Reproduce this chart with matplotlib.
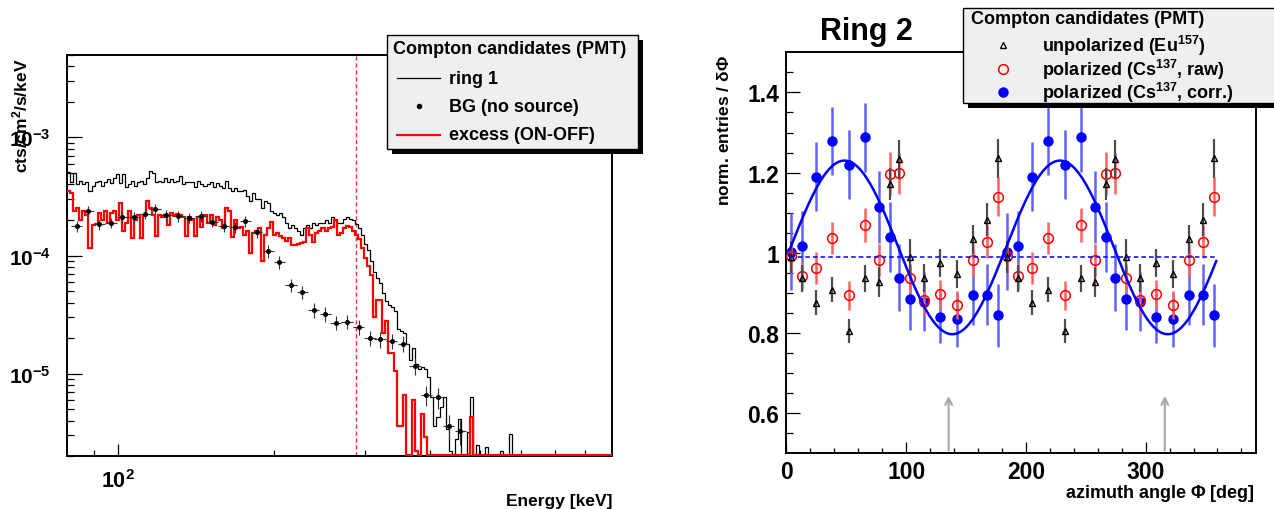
import numpy as np
import matplotlib

matplotlib.use("Agg")
import matplotlib.pyplot as plt
from matplotlib.lines import Line2D
from matplotlib.patches import Rectangle
from matplotlib.ticker import FixedLocator, FixedFormatter, NullFormatter

plt.rcParams.update({
    "font.family": ["Liberation Sans", "DejaVu Sans"],
    "font.weight": "bold",
    "mathtext.fontset": "custom",
    "mathtext.rm": "Liberation Sans:bold",
    "mathtext.bf": "Liberation Sans:bold",
    "mathtext.it": "Liberation Sans:bold:italic",
    "mathtext.default": "rm",
})

# ---------------- left panel: energy spectrum, ring 1 ----------------
E_MIN, E_MAX, N_BINS = 80.0, 900.0, 180
Y_MIN, Y_MAX = 2e-6, 5e-3
E_CUT = 288.0  # dashed line

# cts/cm2/s/keV in units of 1e-4, one value per log bin
ring1 = [
    5.1, 4.2, 5.0, 4.0, 4.3, 4.0, 4.2, 3.5, 3.9, 4.2,
    4.3, 3.9, 4.2, 4.4, 4.1, 4.5, 4.9, 4.1, 4.9, 3.8,
    4.0, 4.3, 3.9, 4.2, 4.3, 4.0, 4.5, 5.2, 5.0, 4.2,
    4.3, 4.2, 4.5, 4.2, 4.4, 4.2, 4.3, 4.7, 4.0, 4.2,
    4.2, 4.2, 3.8, 4.3, 4.0, 3.9, 4.0, 4.2, 3.8, 4.1,
    3.9, 3.7, 4.3, 3.7, 3.5, 3.7, 3.5, 3.5, 3.6, 3.2,
    2.9, 3.4, 3.0, 3.0, 2.5, 2.9, 2.8, 2.4, 2.3, 2.2,
    2.3, 2.1, 1.9, 1.7, 1.8, 1.7, 1.6, 1.5, 1.7, 1.8,
    1.7, 1.9, 1.8, 1.9, 1.9, 2.0, 1.9, 2.1, 2.0, 1.9,
    1.9, 2.05, 2.1, 2.05, 1.98, 1.86, 1.7, 1.49, 1.26, 1.11,
    0.89, 0.73, 0.65, 0.58, 0.48, 0.41, 0.38, 0.37, 0.34, 0.24,
    0.23, 0.22, 0.18, 0.13, 0.165, 0.12, 0.11, 0.113, 0.11, 0.093,
    0.063, 0.036, 0.043, 0.052, 0.064, 0.034, 0.022, 0, 0.028, 0.041,
    0, 0.021, 0.032, 0.063, 0, 0.025, 0, 0, 0.024, 0,
    0, 0, 0, 0.022, 0, 0, 0.031, 0, 0, 0,
    0, 0, 0, 0, 0, 0, 0, 0, 0, 0,
    0, 0, 0, 0, 0, 0, 0, 0, 0, 0,
    0, 0, 0, 0, 0, 0, 0, 0, 0, 0,
]
excess = [
    3.5, 3.4, 2.4, 2.5, 2.0, 2.4, 2.2, 1.15, 1.8, 1.85,
    2.3, 2.0, 2.4, 1.9, 2.3, 2.4, 2.0, 2.8, 1.6, 1.9,
    2.4, 1.4, 2.0, 2.2, 1.4, 2.2, 2.9, 2.5, 2.2, 1.45,
    2.2, 2.1, 2.2, 1.8, 2.3, 2.2, 2.25, 2.2, 2.1, 1.45,
    2.1, 2.0, 1.45, 2.1, 1.75, 2.2, 1.9, 2.2, 1.8, 2.1,
    2.0, 1.7, 2.5, 2.4, 1.43, 2.0, 1.7, 1.75, 1.49, 1.6,
    1.04, 1.55, 1.6, 1.7, 0.89, 1.5, 1.7, 1.93, 1.5, 1.55,
    1.45, 1.4, 1.32, 1.4, 1.22, 1.22, 1.25, 1.28, 1.3, 1.7,
    1.5, 1.3, 1.55, 1.6, 1.7, 1.6, 1.7, 1.75, 2.0, 1.5,
    1.55, 1.7, 1.78, 1.75, 1.6, 1.48, 1.38, 1.15, 0.95, 0.82,
    0.68, 0.3, 0.42, 0.42, 0.22, 0.28, 0.15, 0.15, 0.105, 0.036,
    0.036, 0.066, 0, 0, 0.06, 0.022, 0, 0.046, 0.029, 0,
    0, 0, 0, 0, 0, 0, 0, 0, 0, 0,
    0, 0, 0, 0.043, 0, 0, 0, 0, 0, 0,
    0, 0, 0, 0, 0, 0, 0, 0, 0, 0,
    0, 0, 0, 0, 0, 0, 0, 0, 0, 0,
    0, 0, 0, 0, 0, 0, 0, 0, 0, 0,
    0, 0, 0, 0, 0, 0, 0, 0, 0, 0,
]
assert len(ring1) == N_BINS and len(excess) == N_BINS

# background run (no source), coarser bins
bg_E = [83.4, 87.8, 92.3, 97.2, 102.2, 107.5, 113.1, 118.2, 124.3, 130.8,
        137.6, 144.8, 152.3, 160.3, 168.6, 176.4, 185.6, 195.4, 205.2, 216.0,
        227.3, 239.2, 251.7, 263.5, 277.3, 291.8, 307.0, 321.3, 338.3, 356.1,
        374.8, 394.5, 415.3, 435.5, 458.6]
bg_val = [1.77, 2.37, 1.83, 1.89, 2.11, 2.11, 2.26, 2.48, 2.19, 2.15,
          2.09, 2.15, 1.93, 1.77, 1.73, 1.94, 1.58, 1.09, 0.88, 0.56,
          0.49, 0.345, 0.32, 0.27, 0.276, 0.248, 0.20, 0.195, 0.19, 0.18,
          0.117, 0.066, 0.063, 0.036, 0.033]
bg_relerr = [0.10, 0.10, 0.10, 0.10, 0.10, 0.10, 0.10, 0.10, 0.10, 0.10,
             0.10, 0.10, 0.10, 0.11, 0.11, 0.11, 0.11, 0.12, 0.12, 0.13,
             0.13, 0.14, 0.14, 0.14, 0.14, 0.15, 0.15, 0.15, 0.15, 0.16,
             0.17, 0.20, 0.20, 0.24, 0.24]
BG_HALF_DEX = 0.011

# ---------------- right panel: azimuth distribution, ring 2 ----------------
phi = [3.6, 13.0, 24.5, 37.8, 52.3, 65.9, 77.1, 86.5, 94.0, 103.3, 114.7,
       128.3, 142.3, 155.9, 167.3, 176.8,
       184.0, 193.5, 204.9, 218.5, 232.5, 246.0, 257.8, 267.0, 274.8, 283.7,
       295.4, 308.5, 322.7, 336.6, 347.8, 357.2]
eu = [0.99, 0.936, 0.876, 0.908, 0.805, 0.936, 0.927, 1.172, 1.234, 0.99,
      0.938, 0.975, 0.947, 1.034, 1.083, 1.236,
      0.99, 0.936, 0.876, 0.908, 0.805, 0.936, 0.927, 1.172, 1.234, 0.99,
      0.938, 0.975, 0.947, 1.034, 1.083, 1.236]
eu_err = [0.04, 0.033, 0.032, 0.031, 0.029, 0.034, 0.037, 0.04, 0.048, 0.044,
          0.035, 0.035, 0.035, 0.036, 0.041, 0.049,
          0.04, 0.033, 0.032, 0.031, 0.029, 0.034, 0.037, 0.04, 0.048, 0.044,
          0.035, 0.035, 0.035, 0.036, 0.041, 0.049]
cs_raw = [0.993, 0.943, 0.961, 1.036, 0.894, 1.07, 0.981, 1.197, 1.198, 0.936,
          0.883, 0.897, 0.869, 0.981, 1.028, 1.14,
          0.993, 0.943, 0.961, 1.036, 0.894, 1.07, 0.981, 1.197, 1.198, 0.936,
          0.883, 0.897, 0.869, 0.981, 1.028, 1.14]
cs_raw_err = [0.04, 0.035, 0.04, 0.04, 0.036, 0.042, 0.04, 0.054, 0.052, 0.037,
              0.037, 0.036, 0.035, 0.04, 0.042, 0.049,
              0.04, 0.035, 0.04, 0.04, 0.036, 0.042, 0.04, 0.054, 0.052, 0.037,
              0.037, 0.036, 0.035, 0.04, 0.042, 0.049]
cs_corr = [1.003, 1.016, 1.19, 1.279, 1.22, 1.288, 1.114, 1.039, 0.938, 0.886,
           0.878, 0.839, 0.834, 0.896, 0.896, 0.844,
           1.003, 1.016, 1.19, 1.279, 1.22, 1.288, 1.114, 1.039, 0.938, 0.886,
           0.878, 0.839, 0.834, 0.896, 0.896, 0.844]
cs_corr_err = [0.096, 0.088, 0.087, 0.084, 0.086, 0.086, 0.09, 0.088, 0.083, 0.078,
               0.073, 0.065, 0.069, 0.077, 0.077, 0.079,
               0.096, 0.088, 0.087, 0.084, 0.086, 0.086, 0.09, 0.088, 0.083, 0.078,
               0.073, 0.065, 0.069, 0.077, 0.077, 0.079]
# fit: p0 + p1*cos(2*(phi - phase))
FIT_P0, FIT_P1, FIT_PHASE = 1.0135, 0.2165, 48.5
FLAT = 0.99
arrow_phi = [135.5, 316.0]

W, H = 1274, 510
fig = plt.figure(figsize=(W / 100, H / 100), dpi=100)


def fx(x):
    return x / W


def fy(y):
    return 1 - y / H


# ===== left =====
axL = fig.add_axes([fx(67.3), fy(457.3), fx(612 - 67.3), (457.3 - 55.7) / H])
axL.set_xscale("log"); axL.set_yscale("log")
edges = np.geomspace(E_MIN, E_MAX, N_BINS + 1)
floor = Y_MIN * 1.02
r1 = np.maximum(np.array(ring1) * 1e-4, floor)
ex = np.maximum(np.array(excess) * 1e-4, floor)
axL.stairs(r1, edges, color="black", lw=0.9, baseline=None, zorder=2)
axL.stairs(ex, edges, color="red", lw=1.6, baseline=None, zorder=3)
bgE = np.array(bg_E); bgv = np.array(bg_val) * 1e-4
xlo = bgE - bgE / 10 ** BG_HALF_DEX; xhi = bgE * 10 ** BG_HALF_DEX - bgE
axL.errorbar(bgE, bgv, xerr=[xlo, xhi], yerr=bgv * np.array(bg_relerr), fmt="o",
             ms=2.6, color="black", ecolor="#333333", elinewidth=0.8, capsize=0, zorder=4)
axL.axvline(E_CUT, color="#ff3030", lw=1, ls=(0, (3, 2)), zorder=1)
axL.set_xlim(E_MIN, E_MAX); axL.set_ylim(Y_MIN, Y_MAX)
axL.xaxis.set_major_locator(FixedLocator([100]))
axL.xaxis.set_major_formatter(FixedFormatter([r"$10^{2}$"]))
axL.xaxis.set_minor_locator(FixedLocator([90, 200, 300, 400, 500, 600, 700, 800]))
axL.xaxis.set_minor_formatter(NullFormatter())
axL.yaxis.set_major_locator(FixedLocator([1e-5, 1e-4, 1e-3]))
axL.yaxis.set_major_formatter(FixedFormatter([r"$10^{-5}$", r"$10^{-4}$", r"$10^{-3}$"]))
minors = [m * 10.0 ** e for e in (-6, -5, -4, -3) for m in range(2, 10)]
axL.yaxis.set_minor_locator(FixedLocator([v for v in minors if Y_MIN <= v <= Y_MAX]))
axL.yaxis.set_minor_formatter(NullFormatter())
axL.tick_params(which="both", direction="in", top=False, right=False, width=0.9)
axL.tick_params(axis="y", which="major", length=10.5, pad=12, labelsize=15)
axL.tick_params(axis="y", which="minor", length=5)
axL.tick_params(axis="x", which="major", length=9, pad=9, labelsize=15.5)
axL.tick_params(axis="x", which="minor", length=4)
for s in axL.spines.values():
    s.set_linewidth(1.4)
fig.text(fx(20), fy(58), r"cts/cm$^{2}$/s/keV", rotation=90, ha="center", va="top", fontsize=12.5)
fig.text(fx(612), fy(502), "Energy [keV]", ha="right", va="center", fontsize=12.5)

# ===== right =====
axR = fig.add_axes([fx(786.4), fy(454.3), fx(1255.8 - 786.4), (454.3 - 53.3) / H])
axR.errorbar(phi, cs_corr, yerr=cs_corr_err, fmt="o", ms=6.5, color="blue",
             ecolor=(0.38, 0.38, 1.0), elinewidth=1.8, capsize=0, zorder=3)
axR.errorbar(phi, cs_raw, yerr=cs_raw_err, fmt="o", ms=7, mfc="none", mec="red", mew=1.1,
             ecolor=(1.0, 0.38, 0.38), elinewidth=1.8, capsize=0, zorder=4)
axR.errorbar(phi, eu, yerr=eu_err, fmt="^", ms=5, mfc="none", mec="black", mew=1.0,
             ecolor=(0.3, 0.3, 0.3), elinewidth=1.6, capsize=0, zorder=5)
pf = np.linspace(3.0, 359.0, 400)
axR.plot(pf, FIT_P0 + FIT_P1 * np.cos(np.radians(2 * (pf - FIT_PHASE))), color="blue", lw=1.8, zorder=6)
axR.plot([3.0, 359.0], [FLAT, FLAT], color="blue", lw=1.1, ls=(0, (3, 2)), zorder=6)
for a in arrow_phi:
    axR.annotate("", xy=(a, 0.65), xytext=(a, 0.5),
                 arrowprops=dict(arrowstyle="->", color="#a8a8a8", lw=1.5, mutation_scale=12))
axR.set_xlim(0, 392); axR.set_ylim(0.5, 1.5)
axR.xaxis.set_major_locator(FixedLocator([0, 100, 200, 300]))
axR.xaxis.set_minor_locator(FixedLocator(list(range(20, 392, 20))))
axR.yaxis.set_major_locator(FixedLocator([0.6, 0.8, 1.0, 1.2, 1.4]))
axR.yaxis.set_major_formatter(FixedFormatter(["0.6", "0.8", "1", "1.2", "1.4"]))
axR.yaxis.set_minor_locator(FixedLocator([0.55 + 0.05 * i for i in range(19)]))
axR.tick_params(which="both", direction="in", top=False, right=False, width=0.9)
axR.tick_params(axis="y", which="major", length=10, pad=5, labelsize=16.5)
axR.tick_params(axis="y", which="minor", length=4.7)
axR.tick_params(axis="x", which="major", length=8, pad=5, labelsize=16.5)
axR.tick_params(axis="x", which="minor", length=3.6)
for s in axR.spines.values():
    s.set_linewidth(1.4)
fig.text(fx(724), fy(55), r"norm. entries / $\delta\Phi$", rotation=90, ha="center", va="top", fontsize=12.5)
fig.text(fx(1255), fy(494), r"azimuth angle $\Phi$ [deg]", ha="right", va="center", fontsize=13)
fig.text(fx(866), fy(40), "Ring 2", ha="center", va="baseline", fontsize=22)


# ===== legends (drawn in figure pixels) =====
def legend_box(x0, y0, x1, y1):
    fig.add_artist(Rectangle((fx(x0 + 5), fy(y1 + 5)), fx(x1 - x0), (y1 - y0) / H,
                             transform=fig.transFigure, facecolor="black", edgecolor="none", zorder=10))
    fig.add_artist(Rectangle((fx(x0), fy(y1)), fx(x1 - x0), (y1 - y0) / H,
                             transform=fig.transFigure, facecolor="#efefef", edgecolor="black",
                             lw=1, zorder=11))


legend_box(387, 36, 638, 150)
fig.text(fx(393), fy(50), "Compton candidates (PMT)", ha="left", va="center", fontsize=13, zorder=12)
fig.add_artist(Line2D([fx(397), fx(440)], [fy(79), fy(79)], transform=fig.transFigure,
                      color="black", lw=0.9, zorder=12))
fig.add_artist(Line2D([fx(419)], [fy(107)], transform=fig.transFigure, marker="o", ms=3,
                      color="black", zorder=12))
fig.add_artist(Line2D([fx(397), fx(440)], [fy(136), fy(136)], transform=fig.transFigure,
                      color="red", lw=1.6, zorder=12))
for y, t in [(79, "ring 1"), (107, "BG (no source)"), (136, "excess (ON-OFF)")]:
    fig.text(fx(449), fy(y), t, ha="left", va="center", fontsize=13, zorder=12)

legend_box(963, 9, 1290, 104)
fig.text(fx(971), fy(20), "Compton candidates (PMT)", ha="left", va="center", fontsize=13, zorder=12)
fig.add_artist(Line2D([fx(1003)], [fy(46)], transform=fig.transFigure, marker="^", ms=5,
                      mfc="none", mec="black", mew=1.0, zorder=12))
fig.add_artist(Line2D([fx(1003)], [fy(69.5)], transform=fig.transFigure, marker="o", ms=7,
                      mfc="none", mec="red", mew=1.1, zorder=12))
fig.add_artist(Line2D([fx(1003)], [fy(93)], transform=fig.transFigure, marker="o", ms=6.5,
                      color="blue", zorder=12))
for y, t in [(46, r"unpolarized (Eu$^{157}$)"), (69.5, r"polarized (Cs$^{137}$, raw)"),
             (93, r"polarized (Cs$^{137}$, corr.)")]:
    fig.text(fx(1042), fy(y), t, ha="left", va="center", fontsize=13, zorder=12)

fig.savefig("out.png", dpi=100, facecolor="white")
